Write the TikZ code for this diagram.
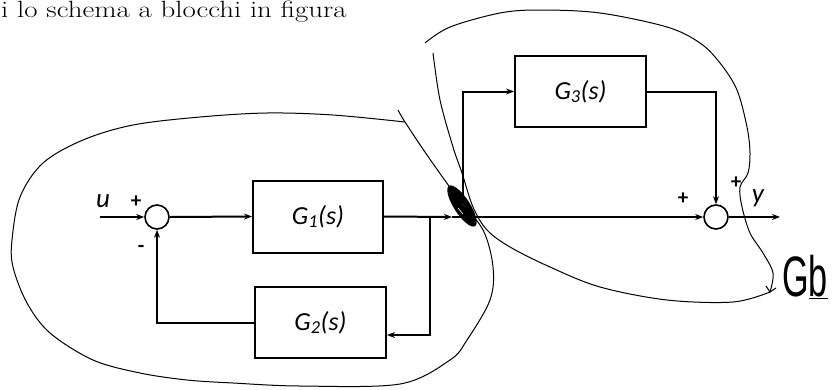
\documentclass[tikz,border=0pt]{standalone}
\usepackage{fontspec}
\usepackage{graphicx}
\newfontfamily\carl{Carlito}
\newfontfamily\handf{Liberation Sans}
\usetikzlibrary{arrows.meta}
\begin{document}
\begin{tikzpicture}[x=1pt,y=-1pt,
  blk/.style={draw,line width=2pt,minimum width=130pt,minimum height=72pt,inner sep=0pt,
    font=\carl\itshape\fontsize{26}{28}\selectfont},
  sumc/.style={draw,circle,line width=1.6pt,minimum size=24pt,inner sep=0pt},
  sig/.style={line width=2pt},
  arr/.style={sig,-{Stealth[length=8pt,width=6pt]}},
  hand/.style={line width=1pt},
  lbl/.style={font=\carl\itshape\fontsize{27}{28}\selectfont,inner sep=0pt},
  sgn/.style={font=\carl\bfseries\fontsize{21}{21}\selectfont,inner sep=0pt}]
\useasboundingbox (0,0) rectangle (834,389);

% heading text
\node[anchor=base west,inner sep=0pt] (head) at (1,17.5) {\scalebox{1.23}[1]{\fontsize{23.5}{25}\selectfont i lo schema a blocchi in figura}};

% blocks
\node[blk] (G1) at (318,216.5) {G\textsubscript{1}(s)};
\node[blk,minimum width=131pt,minimum height=71pt] (G2) at (320.5,322.5) {G\textsubscript{2}(s)};
\node[blk,minimum width=131pt,minimum height=71pt] (G3) at (580.5,91.5) {G\textsubscript{3}(s)};
\node[sumc] (s1) at (157,217) {};
\node[sumc] (s2) at (716,217) {};

\coordinate (uin) at (100,217);
\coordinate (fb) at (430,217);
\coordinate (fb2) at (430,335);
\coordinate (pin) at (452,217);
\coordinate (p) at (463,217);
\coordinate (yout) at (780,217);

% connectors
\draw[arr] (uin) -- (s1.west);
\draw[arr] (s1.east) -- (G1.west);
\draw[arr] (G1.east) -- (pin);
\draw[sig] (pin) -- (p);
\draw[arr] (fb) -- (fb2) -- (G2.east |- fb2);
\draw[arr] (G2.west) -| (s1.south);
\draw[arr] (p) -- (s2.west);
\draw[arr] (p) |- (G3.west);
\draw[arr] (G3.east) -| (s2.north);
\draw[arr] (s2.east) -- (yout);

% labels
\node[lbl] (lu) at (103,201) {u};
\node[lbl] (ly) at (758,198) {y};
\node[sgn] (p1) at (136,202) {+};
\node[sgn] (m1) at (141,249) {-};
\node[sgn] (p2) at (683,199) {+};
\node[sgn] (p3) at (736,183) {+};

% scribbled pick-off point
\fill[rotate around={-57:(462,206)}] (462,206) ellipse (24pt and 8pt);
\draw[white,line width=0.6pt] (458,208) -- (463,214) (462,203) -- (466,208);

% hand-drawn outlines
\draw[hand] plot[smooth,tension=0.55] coordinates {(398,110) (405,122) (427,155) (457,197) (483,230) (493,267) (490,300) (467,340) (450,360) (400,384) (300,386) (233,383) (187,380) (140,373) (93,360) (50,333) (27,303) (13,267) (12,240) (20,197) (43,163) (83,140) (133,125) (200,117) (267,113) (333,115) (405,122)};
\draw[hand] plot[smooth,tension=0.55] coordinates {(425,43) (450,27) (500,13) (540,10) (600,13) (667,27) (700,43) (720,63) (737,90) (747,127) (750,153) (748,173) (740,187) (742,207) (750,233) (763,253) (773,273) (770,292)};
\draw[hand] plot[smooth,tension=0.55] coordinates {(770,292) (733,302) (667,300) (600,287) (550,267) (510,247) (487,230) (473,207) (462,173) (453,147) (440,100) (433,53)};
\draw[hand] (766,286) -- (770,292) -- (776,288);

\node[anchor=base west,inner sep=0pt] (gb) at (782,296) {\scalebox{0.6}[1]{\handf\fontsize{57}{57}\selectfont G\underline{b}}};
\end{tikzpicture}
\end{document}
